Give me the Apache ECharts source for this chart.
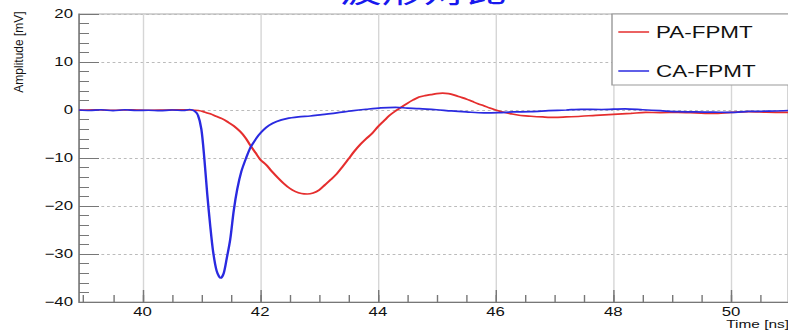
<!DOCTYPE html>
<html>
<head>
<meta charset="utf-8">
<script src="https://cdn.jsdelivr.net/npm/echarts@6/dist/echarts.min.js"></script>
<style>
  html, body { margin: 0; padding: 0; background: #fff; overflow: hidden; }
  #frame { width: 788px; height: 330px; overflow: hidden; position: relative; background: #fff; }
  /* the plot is laid out narrow and widened horizontally, like the exported ROOT canvas */
  #chart { width: 563px; height: 330px; transform: scaleX(1.4); transform-origin: 0 0; }
</style>
</head>
<body>
<div id="frame"><div id="chart"></div></div>
<script>
// ---- waveform data (time in ns, amplitude in mV) ----
const paTime = [38.92, 39.2, 39.5, 39.8, 40.1, 40.4, 40.7, 40.95, 41.05, 41.15, 41.25, 41.35, 41.45,
  41.55, 41.66, 41.75, 41.83, 41.92, 42.0, 42.1, 42.2, 42.3, 42.4, 42.5, 42.6, 42.7, 42.8, 42.9,
  43.0, 43.1, 43.2, 43.3, 43.4, 43.5, 43.6, 43.7, 43.8, 43.9, 44.0, 44.1, 44.2, 44.3, 44.4, 44.5,
  44.6, 44.7, 44.8, 44.9, 45.0, 45.1, 45.2, 45.3, 45.4, 45.5, 45.6, 45.7, 45.8, 45.9, 46.0, 46.1,
  46.25, 46.4, 46.6, 46.8, 47.0, 47.2, 47.45, 47.7, 48.0, 48.3, 48.55, 48.8, 49.1, 49.4, 49.7,
  50.0, 50.3, 50.6, 50.97];
const paAmp = [0, 0.05, -0.05, 0.05, -0.05, 0, 0.05, -0.1, -0.4, -0.8, -1.3, -1.8, -2.5,
  -3.3, -4.5, -5.8, -7.3, -8.9, -10.3, -11.4, -12.8, -14.1, -15.3, -16.3, -17.0, -17.4, -17.5, -17.3,
  -16.7, -15.6, -14.5, -13.3, -11.8, -10.2, -8.6, -7.2, -6.0, -4.9, -3.5, -2.3, -1.1, -0.2, 0.6, 1.4,
  2.1, 2.7, 3.0, 3.2, 3.4, 3.5, 3.4, 3.1, 2.7, 2.3, 1.8, 1.3, 0.9, 0.4, 0, -0.35,
  -0.75, -1.1, -1.3, -1.45, -1.55, -1.45, -1.3, -1.1, -0.9, -0.7, -0.5, -0.55, -0.5, -0.6, -0.7,
  -0.5, -0.35, -0.45, -0.5];

const caTime = [38.92, 39.1, 39.3, 39.5, 39.7, 39.9, 40.1, 40.3, 40.5, 40.7, 40.8, 40.88, 40.94,
  41.0, 41.05, 41.1, 41.15, 41.2, 41.26, 41.33, 41.38, 41.43, 41.49, 41.55, 41.61, 41.68, 41.77,
  41.83, 41.88, 41.97, 42.05, 42.15, 42.28, 42.45, 42.65, 42.85, 43.05, 43.3, 43.55, 43.8, 44.05,
  44.3, 44.5, 44.7, 45.0, 45.25, 45.5, 45.8, 46.05, 46.3, 46.6, 46.9, 47.2, 47.45, 47.8, 48.2,
  48.5, 48.8, 49.1, 49.4, 49.7, 50.0, 50.3, 50.6, 50.97];
const caAmp = [0, -0.1, 0.05, -0.15, 0.05, -0.1, -0.05, -0.15, 0, -0.1, 0.1, -0.2, -1.0,
  -4, -10, -17.5, -24, -29.5, -33.5, -35, -34, -31, -27, -21, -16.5, -12.8, -9.7,
  -7.9, -6.9, -5.3, -4.2, -3.2, -2.4, -1.8, -1.45, -1.25, -0.95, -0.6, -0.2, 0.15, 0.45,
  0.55, 0.4, 0.3, 0.05, -0.2, -0.4, -0.6, -0.55, -0.4, -0.35, -0.15, 0, 0.15, 0.1, 0.25,
  0.05, -0.15, -0.35, -0.4, -0.45, -0.5, -0.3, -0.25, -0.1];

const seriesNames = ['PA-FPMT', 'CA-FPMT'];

// ---- axis ranges and tick positions ----
const xMin = 38.921, xMax = 50.972;
const xLabelValues = [40, 42, 44, 46, 48, 50];
const xMinorValues = [39, 39.5, 40, 40.5, 41, 41.5, 42, 42.5, 43, 43.5, 44, 44.5, 45, 45.5,
  46, 46.5, 47, 47.5, 48, 48.5, 49, 49.5, 50, 50.5];
const yMin = -40, yMax = 20, yStep = 10;

const SX = 1.4;                 // horizontal widening applied by CSS
const FONT = 'Liberation Sans';

const chart = echarts.init(document.getElementById('chart'), null, { renderer: 'svg' });

const pairs = (ts, vs) => ts.map((t, i) => [t, vs[i]]);

chart.setOption({
  animation: false,
  backgroundColor: '#fff',
  grid: {
    left: 79 / SX, right: 0, top: 14, bottom: 28,
    show: true, borderColor: '#aaa', borderWidth: 1, backgroundColor: 'transparent'
  },
  legend: {
    orient: 'vertical',
    left: 612 / SX, top: 14,
    padding: [8, 40, 4, 4.5],
    itemWidth: 22, itemHeight: 1.5, itemGap: 19,
    icon: 'rect',
    backgroundColor: '#fff',
    borderColor: '#999', borderWidth: 1,
    textStyle: { fontFamily: FONT, fontSize: 16, lineHeight: 20, color: '#111' },
    data: seriesNames
  },
  xAxis: [
    {
      type: 'value', min: xMin, max: xMax, position: 'bottom',
      axisLine: { show: true, onZero: false, lineStyle: { color: '#777', width: 1 } },
      axisTick: { show: true, inside: true, length: 7, customValues: xMinorValues,
        lineStyle: { color: '#777' } },
      axisLabel: { show: true, customValues: xLabelValues, margin: 3,
        fontFamily: FONT, fontSize: 12, lineHeight: 13, color: '#111' },
      splitLine: { show: false }
    },
    {
      type: 'value', min: xMin, max: xMax, position: 'bottom',
      axisLine: { show: false, onZero: false },
      axisTick: { show: true, inside: true, length: 12, customValues: xLabelValues,
        lineStyle: { color: '#777' } },
      axisLabel: { show: false },
      splitLine: { show: true, lineStyle: { color: '#d6d6d6', width: 1 } }
    }
  ],
  yAxis: {
    type: 'value', min: yMin, max: yMax, interval: yStep,
    axisLine: { show: true, onZero: false, lineStyle: { color: '#777', width: 1 } },
    axisTick: { show: true, inside: true, length: 20 / SX, lineStyle: { color: '#777' } },
    minorTick: { show: true, splitNumber: 5, length: 10 / SX, lineStyle: { color: '#777' } },
    axisLabel: {
      margin: 4.3, fontFamily: FONT, fontSize: 12, color: '#111',
      formatter: v => String(v).replace('-', '\u2212')
    },
    splitLine: { show: true, lineStyle: { color: '#bbb', type: [2, 2], width: 1 } }
  },
  graphic: [
    {
      type: 'text', x: 423.5 / SX, y: -11, z: 10,
      style: { text: '波形对比', fill: '#1818ee', font: '30px "Noto Sans CJK SC"',
        textAlign: 'center', textVerticalAlign: 'middle' }
    },
    {
      type: 'text', x: 19 / SX, y: 52, rotation: Math.PI / 2, scaleY: 1 / SX, z: 10,
      style: { text: 'Amplitude [mV]', fill: '#111', font: '12px "Liberation Sans"',
        textAlign: 'center', textVerticalAlign: 'middle' }
    },
    {
      type: 'text', x: 789 / SX, y: 324, z: 10,
      style: { text: 'Time [ns]', fill: '#111', font: '11px "Liberation Sans"',
        textAlign: 'right', textVerticalAlign: 'middle' }
    }
  ],
  series: [
    {
      name: seriesNames[0], type: 'line', xAxisIndex: 0,
      data: pairs(paTime, paAmp),
      symbol: 'none', smooth: 0.3,
      lineStyle: { color: '#e52e2e', width: 1.7 },
      itemStyle: { color: '#e52e2e' }
    },
    {
      name: seriesNames[1], type: 'line', xAxisIndex: 0,
      data: pairs(caTime, caAmp),
      symbol: 'none', smooth: 0.3,
      lineStyle: { color: '#2a2ae0', width: 1.7 },
      itemStyle: { color: '#2a2ae0' }
    }
  ]
});
</script>
</body>
</html>
